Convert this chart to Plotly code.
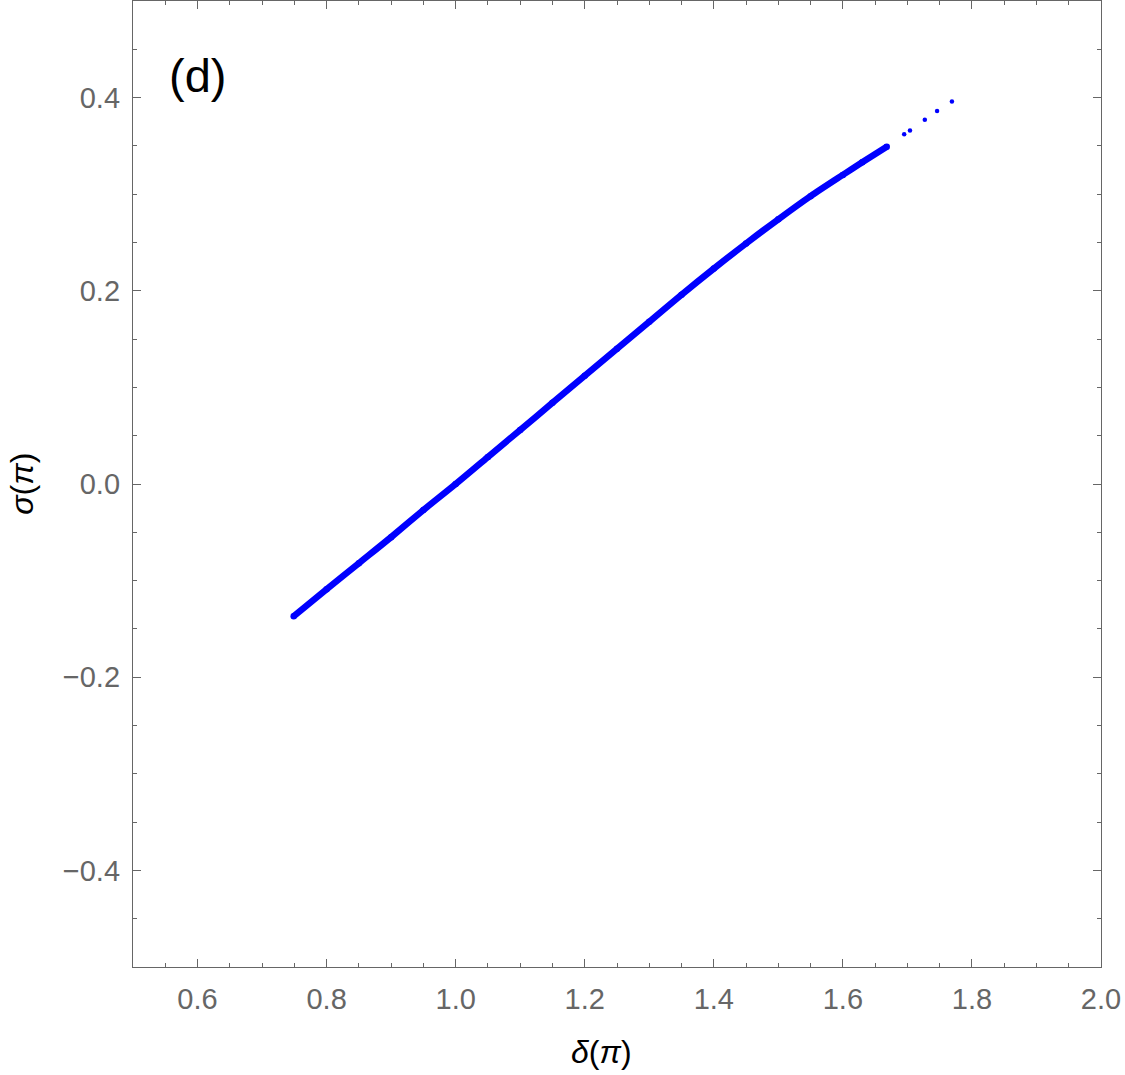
import plotly.graph_objects as go

# Dense branch (read along the band)
delta_dense = [0.749, 0.80, 0.85, 0.90, 0.95, 1.00, 1.05, 1.10, 1.15, 1.20,
               1.25, 1.30, 1.35, 1.40, 1.45, 1.50, 1.55, 1.60, 1.63, 1.668]
sigma_dense = [-0.137, -0.109, -0.082, -0.055, -0.027, 0.000, 0.028, 0.056, 0.084, 0.112,
               0.140, 0.168, 0.196, 0.223, 0.249, 0.274, 0.298, 0.320, 0.333, 0.349]

# Sparse points at the upper end
delta_tail = [1.695, 1.704, 1.727, 1.746, 1.769]
sigma_tail = [0.362, 0.366, 0.377, 0.386, 0.396]

x_ticks = [0.6, 0.8, 1.0, 1.2, 1.4, 1.6, 1.8, 2.0]
x_ticklabels = ["0.6", "0.8", "1.0", "1.2", "1.4", "1.6", "1.8", "2.0"]
y_ticks = [-0.4, -0.2, 0.0, 0.2, 0.4]
y_ticklabels = ["\u22120.4", "\u22120.2", "0.0", "0.2", "0.4"]

BLUE = "#0000ff"
GRAY = "#666666"
FONT = "Liberation Sans, Arial, sans-serif"

fig = go.Figure()
fig.add_trace(go.Scatter(
    x=delta_dense, y=sigma_dense, mode="lines+markers",
    line=dict(color=BLUE, width=6.5, shape="spline", smoothing=0.8),
    marker=dict(color=BLUE, size=6.5),
    showlegend=False, hoverinfo="skip"))
fig.add_trace(go.Scatter(
    x=delta_tail, y=sigma_tail, mode="markers",
    marker=dict(color=BLUE, size=4.5),
    showlegend=False, hoverinfo="skip"))

axis_common = dict(
    showline=True, mirror="allticks", linecolor=GRAY, linewidth=1.3,
    ticks="inside", ticklen=8, tickwidth=1.2, tickcolor=GRAY,
    showgrid=False, zeroline=False,
    tickfont=dict(family=FONT, size=29, color=GRAY),
    minor=dict(ticks="inside", ticklen=4, tickwidth=1.1, tickcolor=GRAY, dtick=0.05, showgrid=False),
)

fig.update_xaxes(range=[0.5, 2.0], tickvals=x_ticks, ticktext=x_ticklabels,
                 ticklabelstandoff=6, **axis_common)
fig.update_yaxes(range=[-0.5, 0.5], tickvals=y_ticks, ticktext=y_ticklabels,
                 ticklabelstandoff=6, **axis_common)

fig.add_annotation(x=0.4845, y=-0.088, xref="paper", yref="paper",
                   text="<i>\u03b4</i>(<i>\u03c0</i>)", showarrow=False,
                   font=dict(family=FONT, size=32, color="black"),
                   xanchor="center", yanchor="middle")
fig.add_annotation(x=-0.115, y=0.5, xref="paper", yref="paper",
                   text="<i>\u03c3</i>(<i>\u03c0</i>)", showarrow=False, textangle=-90,
                   font=dict(family=FONT, size=32, color="black"),
                   xanchor="center", yanchor="middle")
fig.add_annotation(x=0.6, y=0.423, xref="x", yref="y",
                   text="(d)", showarrow=False,
                   font=dict(family=FONT, size=47, color="black"),
                   xanchor="center", yanchor="middle")

fig.update_layout(
    width=1125, height=1075,
    margin=dict(l=133, r=24, t=1, b=108),
    plot_bgcolor="white", paper_bgcolor="white",
)

fig.write_html("out.html")
